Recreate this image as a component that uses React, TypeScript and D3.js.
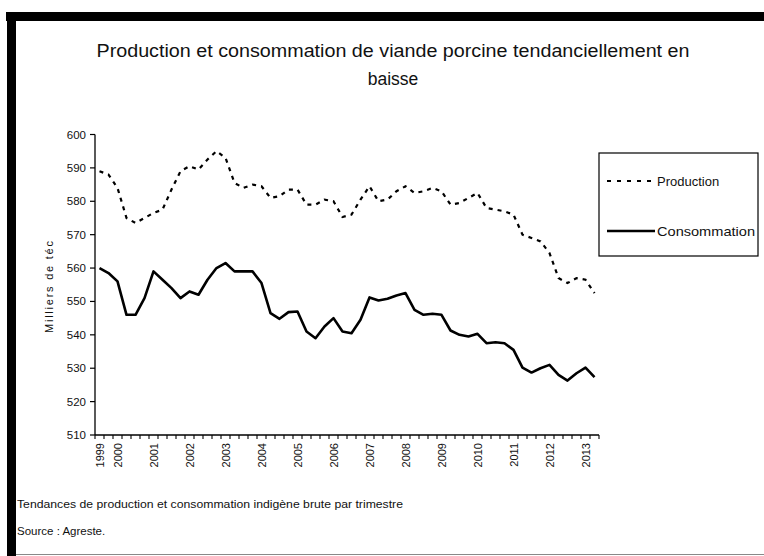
import React from 'react';
import * as d3 from 'd3';

const quarters: string[] = [
  '1999T3','1999T4',
  '2000T1','2000T2','2000T3','2000T4',
  '2001T1','2001T2','2001T3','2001T4',
  '2002T1','2002T2','2002T3','2002T4',
  '2003T1','2003T2','2003T3','2003T4',
  '2004T1','2004T2','2004T3','2004T4',
  '2005T1','2005T2','2005T3','2005T4',
  '2006T1','2006T2','2006T3','2006T4',
  '2007T1','2007T2','2007T3','2007T4',
  '2008T1','2008T2','2008T3','2008T4',
  '2009T1','2009T2','2009T3','2009T4',
  '2010T1','2010T2','2010T3','2010T4',
  '2011T1','2011T2','2011T3','2011T4',
  '2012T1','2012T2','2012T3','2012T4',
  '2013T1','2013T2',
];

const production: number[] = [
  589, 588, 584, 575, 573.5, 575, 576.5, 577.5, 583.5, 589,
  590.5, 589.5, 592.5, 595, 593, 585.5, 584, 585, 584.5, 581,
  581.5, 583.5, 583.5, 579, 579, 580.5, 580, 575.3, 576, 580.5,
  584.5, 580, 580.5, 583, 584.5, 582.5, 583, 584, 583, 579,
  579.5, 581, 582.5, 578, 577.5, 577, 576, 570, 569, 568,
  564.5, 557, 555.5, 557, 556.5, 552.5,
];

const consommation: number[] = [
  560, 558.5, 556, 546, 546, 551, 559, 556.5, 554, 551,
  553, 552, 556.5, 560, 561.5, 559, 559, 559, 555.5, 546.5,
  544.8, 546.8, 547, 541, 539, 542.5, 545, 541, 540.5, 544.5,
  551.2, 550.3, 550.8, 551.8, 552.5, 547.5, 546, 546.3, 546, 541.3,
  540, 539.5, 540.3, 537.5, 537.8, 537.5, 535.5, 530.2, 528.7, 530,
  531, 528, 526.3, 528.5, 530.2, 527.3,
];

const yTicks: number[] = [510, 520, 530, 540, 550, 560, 570, 580, 590, 600];

const titleLines: string[] = [
  'Production et consommation de viande porcine tendanciellement en',
  'baisse',
];
const yAxisTitle = 'Milliers de téc';
const seriesNames: string[] = ['Production', 'Consommation'];
const notes: string[] = [
  'Tendances de production et consommation indigène brute par trimestre',
  'Source : Agreste.',
];

const FONT = "'Liberation Sans', Arial, sans-serif";

export default function App() {
  const x = d3.scaleBand<string>().domain(quarters).range([95, 599]);
  const y = d3.scaleLinear().domain([510, 600]).range([435, 134.5]);
  const cx = (q: string) => (x(q) as number) + x.bandwidth() / 2;

  const line = d3
    .line<number>()
    .x((_, i) => cx(quarters[i]))
    .y((v) => y(v));

  const boundaries = quarters.map((q) => x(q) as number).concat([599]);
  const labelled = quarters
    .map((q, i) => ({ q, i, year: q.slice(0, 4) }))
    .filter((d) => d.i === 0 || d.q.endsWith('T1'));

  return (
    <svg
      width={764}
      height={556}
      style={{ position: 'absolute', left: 0, top: 0, background: '#fff' }}
      fontFamily={FONT}
    >
      <rect x={0} y={0} width={764} height={556} fill="#fff" />
      {/* frame */}
      <rect x={6} y={12} width={758} height={9} fill="#000" />
      <rect x={7} y={12} width={9} height={544} fill="#000" />
      <line x1={16} x2={764} y1={554.5} y2={554.5} stroke="#888" strokeWidth={1} />

      {/* title */}
      <text x={393} y={57} textAnchor="middle" fontSize={17.5} fill="#111" textLength={593} lengthAdjust="spacingAndGlyphs">
        {titleLines[0]}
      </text>
      <text x={393} y={85} textAnchor="middle" fontSize={17.5} fill="#111">
        {titleLines[1]}
      </text>

      {/* y axis */}
      <line x1={95} x2={95} y1={y(600)} y2={y(510)} stroke="#000" strokeWidth={1.3} />
      {yTicks.map((t) => (
        <g key={t}>
          <line x1={90} x2={95} y1={y(t)} y2={y(t)} stroke="#000" strokeWidth={1.2} />
          <text x={86} y={y(t) + 4} textAnchor="end" fontSize={11.5} fill="#111">
            {t}
          </text>
        </g>
      ))}
      <text
        transform={`translate(53,287) rotate(-90)`}
        textAnchor="middle"
        fontSize={11}
        fill="#111"
        textLength={92}
        lengthAdjust="spacing"
      >
        {yAxisTitle}
      </text>

      {/* x axis */}
      <line x1={95} x2={599} y1={435} y2={435} stroke="#000" strokeWidth={1.3} />
      {boundaries.map((b, i) => (
        <line key={i} x1={b} x2={b} y1={435} y2={439} stroke="#000" strokeWidth={1.1} />
      ))}
      {labelled.map((d) => (
        <text
          key={d.q}
          transform={`translate(${cx(d.q) + 4},443) rotate(-90)`}
          textAnchor="end"
          fontSize={11}
          fill="#111"
        >
          {d.year}
        </text>
      ))}

      {/* series */}
      <path d={line(production) || ''} fill="none" stroke="#000" strokeWidth={2.2} strokeDasharray="4,5" />
      <path d={line(consommation) || ''} fill="none" stroke="#000" strokeWidth={2.6} strokeLinejoin="round" />

      {/* legend */}
      <rect x={599} y={153} width={159} height={103} fill="#fff" stroke="#000" strokeWidth={1.2} />
      <line x1={607} x2={655} y1={181} y2={181} stroke="#000" strokeWidth={2.2} strokeDasharray="4,6" />
      <text x={657} y={186} fontSize={13} fill="#111">{seriesNames[0]}</text>
      <line x1={607} x2={655} y1={231} y2={231} stroke="#000" strokeWidth={2.6} />
      <text x={657} y={236} fontSize={13} fill="#111" textLength={98} lengthAdjust="spacingAndGlyphs">{seriesNames[1]}</text>

      {/* notes */}
      <text x={17} y={508} fontSize={11.5} fill="#111" textLength={386} lengthAdjust="spacingAndGlyphs">{notes[0]}</text>
      <text x={17} y={535} fontSize={11.5} fill="#111">{notes[1]}</text>
    </svg>
  );
}
